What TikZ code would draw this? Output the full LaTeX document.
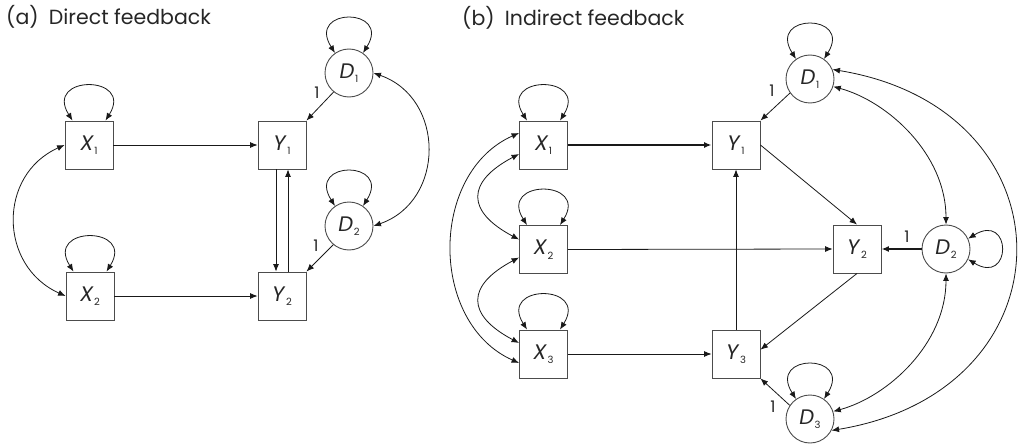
\documentclass[tikz,border=0pt]{standalone}
\usepackage{fontspec}
\setmainfont{Poppins}
\usetikzlibrary{arrows.meta}

% variable name with a small lowered index
\newcommand\vlab[2]{\textit{#1}\kern0.5pt\raisebox{-4.5pt}{\fontsize{10}{10}\selectfont #2}}
% variance loop on top of a node, between two border angles
\newcommand\toploop[3]{\draw[var] (#1.#2) .. controls +(-29,-46) and +(29,-46) .. (#1.#3);}

\begin{document}
\begin{tikzpicture}[x=1pt,y=-1pt,
  every node/.style={inner sep=0pt, text=black!85},
  obs/.style={draw=black!70, line width=0.9pt, minimum size=48pt, font=\fontsize{21}{21}\selectfont},
  lat/.style={draw=black!70, line width=0.9pt, circle, minimum size=48pt, font=\fontsize{21}{21}\selectfont},
  path/.style={line width=0.8pt, draw=black!90, -{Latex[length=7.5pt,width=6pt]}},
  heavy/.style={path, line width=1.6pt},
  var/.style={line width=0.8pt, draw=black!90, {Latex[length=7.5pt,width=6pt]}-{Latex[length=7.5pt,width=6pt]}},
  wlab/.style={font=\fontsize{16}{16}\selectfont},
  title/.style={font=\fontsize{20.5}{20.5}\selectfont, anchor=west}
]
\useasboundingbox (0,0) rectangle (1018,444);

% ---------- (a) direct feedback ----------
\node[title] (ta) at (6,17) {(a)\enspace Direct feedback};
\node[obs] (aX1) at (89,145) {\vlab{X}{1}};
\node[obs] (aX2) at (90,296) {\vlab{X}{2}};
\node[obs] (aY1) at (282,145) {\vlab{Y}{1}};
\node[obs] (aY2) at (282,296) {\vlab{Y}{2}};
\node[lat] (aD1) at (349,73) {\vlab{D}{1}};
\node[lat] (aD2) at (349,226) {\vlab{D}{2}};

\draw[path] (aX1.east) -- (aY1.west);
\draw[path] (aX2.east) -- (aY2.west);
\draw[path] ([xshift=-6pt]aY1.south) -- ([xshift=-6pt]aY2.north);
\draw[path] ([xshift=6pt]aY2.north) -- ([xshift=6pt]aY1.south);
\draw[path] (aD1.231) -- (aY1.north east);
\draw[path] (aD2.230) -- (aY2.north east);
\node[wlab] (la1) at (317,93) {1};
\node[wlab] (la2) at (316,246) {1};

\draw[var] (aX1.west) .. controls +(-67,30) and +(-67,-30) .. (aX2.west);
\draw[var] (aD1.east) .. controls +(72,25) and +(72,-25) .. (aD2.east);

\toploop{aX1}{124}{56}
\toploop{aX2}{124}{56}
\toploop{aD1}{125}{55}
\toploop{aD2}{125}{55}

% ---------- (b) indirect feedback ----------
\node[title] (tb) at (462,18) {(b)\enspace Indirect feedback};
\node[obs] (bX1) at (543.5,145) {\vlab{X}{1}};
\node[obs] (bX2) at (543.5,249.5) {\vlab{X}{2}};
\node[obs] (bX3) at (543.5,354) {\vlab{X}{3}};
\node[obs] (bY1) at (736,145) {\vlab{Y}{1}};
\node[obs] (bY2) at (857,249) {\vlab{Y}{2}};
\node[obs] (bY3) at (736,354) {\vlab{Y}{3}};
\node[lat] (bD1) at (810,79) {\vlab{D}{1}};
\node[lat] (bD2) at (946,249) {\vlab{D}{2}};
\node[lat] (bD3) at (810,419) {\vlab{D}{3}};

\draw[heavy] (bX1.east) -- (bY1.west);
\draw[path] (bX2.east) -- (bY2.west);
\draw[path] (bX3.east) -- (bY3.west);
\draw[path] (bY3.north) -- (bY1.south);
\draw[path] (bY1.east) -- (bY2.north);
\draw[path] (bY2.south) -- (bY3.10);
\draw[path] (bD1.215) -- (bY1.north east);
\draw[heavy] (bD2.west) -- (bY2.east);
\draw[path] (bD3.146) -- (bY3.south east);
\node[wlab] (lb1) at (772,91) {1};
\node[wlab] (lb2) at (907,237) {1};
\node[wlab] (lb3) at (773,407) {1};

\draw[var] ([yshift=12pt]bX1.west) .. controls +(-90,40) and +(-90,-40) .. ([yshift=-9pt]bX3.west);
\draw[var] ([yshift=-9pt]bX1.west) .. controls +(-53,28) and +(-53,-28) .. ([yshift=10pt]bX2.west);
\draw[var] ([yshift=-8pt]bX2.west) .. controls +(-53,28) and +(-53,-28) .. ([yshift=11pt]bX3.west);

\draw[var] (bD1.23) .. controls +(244,40) and +(244,-40) .. (bD3.-28);
\draw[var] (bD1.-18) .. controls +(55,15) and +(0,-70) .. (bD2.north);
\draw[var] (bD2.south) .. controls +(0,70) and +(55,-15) .. (bD3.18);

\toploop{bX1}{124}{56}
\toploop{bX2}{124}{56}
\toploop{bX3}{124}{56}
\toploop{bD1}{125}{55}
\toploop{bD3}{125}{55}
\draw[var] (bD2.25) .. controls +(44,-27) and +(44,27) .. (bD2.-25);
\end{tikzpicture}
\end{document}
